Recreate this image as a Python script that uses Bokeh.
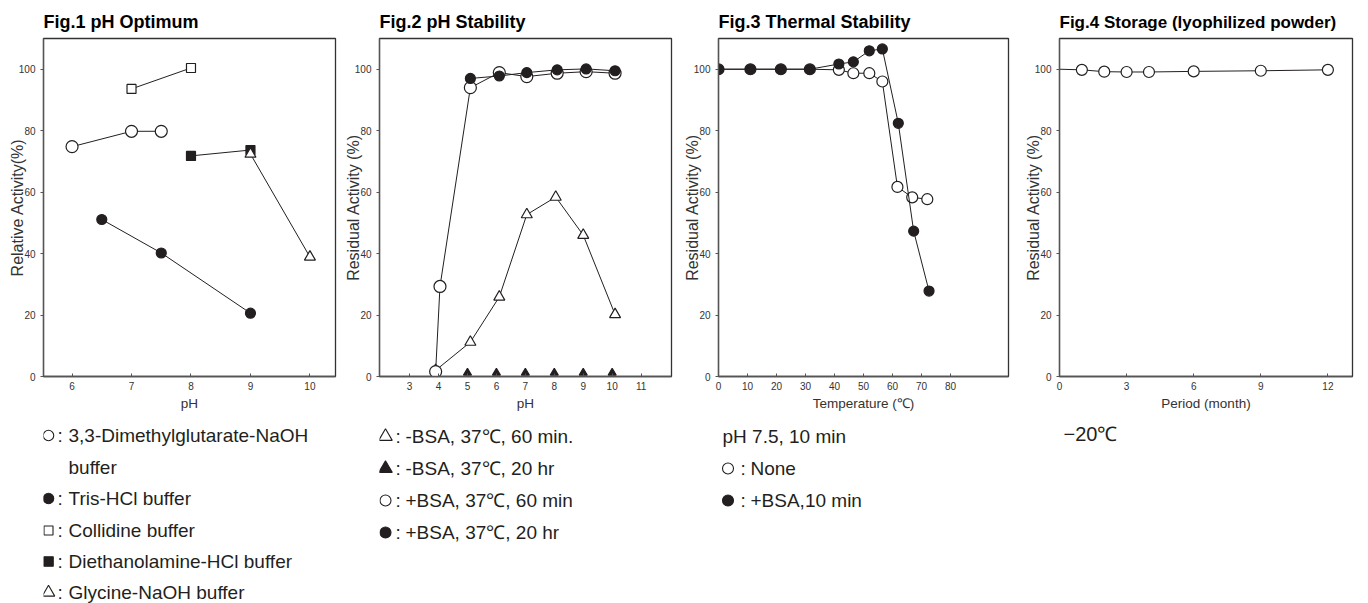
from bokeh.plotting import figure
from bokeh.models import Range1d, FixedTicker
from bokeh.layouts import row, column
from bokeh.embed import file_html
from bokeh.resources import INLINE
from bokeh.core.properties import value

FONT = "Liberation Sans"
INK = "#231f20"

# ---------------- data ----------------
# Fig.1 pH Optimum
f1_dmg_ph = [6.0, 7.0, 7.5]
f1_dmg_act = [74.8, 79.8, 79.8]
f1_tris_ph = [6.5, 7.5, 9.0]
f1_tris_act = [51.1, 40.2, 20.6]
f1_coll_ph = [7.0, 8.0]
f1_coll_act = [93.6, 100.4]
f1_dea_ph = [8.0, 9.0]
f1_dea_act = [71.8, 73.7]
f1_gly_ph = [9.0, 10.0]
f1_gly_act = [72.4, 38.9]
f1_xticks = [6, 7, 8, 9, 10]

# Fig.2 pH Stability
f2_m60_ph = [3.9, 5.1, 6.1, 7.05, 8.05, 9.0, 10.1]
f2_m60_act = [2.0, 11.2, 25.9, 52.7, 58.4, 46.0, 20.2]
f2_m20_ph = [5.0, 6.0, 7.0, 8.0, 9.0, 10.0]
f2_m20_act = [1.2, 1.2, 1.2, 1.2, 1.2, 1.2]
f2_p60_ph = [3.9, 4.05, 5.1, 6.1, 7.05, 8.1, 9.1, 10.1]
f2_p60_act = [1.6, 29.3, 94.0, 98.9, 97.6, 98.7, 99.2, 98.7]
f2_p20_ph = [5.1, 6.1, 7.05, 8.1, 9.1, 10.1]
f2_p20_act = [97.0, 97.8, 98.9, 99.8, 100.1, 99.5]
f2_xticks = [3, 4, 5, 6, 7, 8, 9, 10, 11]

# Fig.3 Thermal Stability
f3_none_t = [0, 11, 21.5, 31.5, 41.5, 46.5, 52, 56.5, 61.7, 66.8, 72.0]
f3_none_act = [100, 100, 100, 100, 99.8, 98.7, 98.7, 96.0, 61.7, 58.3, 57.7]
f3_bsa_t = [0, 11, 21.5, 31.5, 41.5, 46.5, 52, 56.5, 62, 67.3, 72.6]
f3_bsa_act = [100, 100, 100, 100, 101.7, 102.4, 106.0, 106.6, 82.4, 47.3, 27.8]
f3_xticks = [0, 10, 20, 30, 40, 50, 60, 70, 80]

# Fig.4 Storage
f4_month = [0, 1, 2, 3, 4, 6, 9, 12]
f4_act = [100, 99.8, 99.2, 99.1, 99.1, 99.3, 99.5, 99.8]
f4_xticks = [0, 3, 6, 9, 12]

y_ticks = [0, 20, 40, 60, 80, 100]

titles = ["Fig.1 pH Optimum", "Fig.2 pH Stability", "Fig.3 Thermal Stability",
          "Fig.4 Storage (lyophilized powder)"]
x_labels = ["pH", "pH", "Temperature (℃)", "Period (month)"]
y_labels = ["Relative Activity(%)", "Residual Activity (%)", "Residual Activity (%)",
            "Residual Activity (%)"]

f1_legend = ["3,3-Dimethylglutarate-NaOH", "Tris-HCl buffer", "Collidine buffer",
             "Diethanolamine-HCl buffer", "Glycine-NaOH buffer"]
f1_legend_cont = "buffer"
f2_legend = ["-BSA, 37℃, 60 min.", "-BSA, 37℃, 20 hr", "+BSA, 37℃, 60 min", "+BSA, 37℃, 20 hr"]
f3_legend_head = "pH 7.5, 10 min"
f3_legend = ["None", "+BSA,10 min"]
f4_legend = "−20℃"

# ---------------- layout constants (page pixels) ----------------
FIG_W = [340, 339, 341, 348]
BORDER_L = [43, 39, 39, 39]
BORDER_R = [5, 8, 12, 16]
FR_L = [43, 379, 718, 1059]
FR_R = [335, 671, 1008, 1352]
TOP_H = 413          # plot part (frame 38..376)
PAGE_H = 603
X_RANGES = [(5.52, 10.43), (1.96, 12.05), (0, 100), (0, 13.1)]
Y_MAX = 110
TITLE_SIZE = ["18px", "18px", "18px", "17px"]


def panel(i, xticks):
    p = figure(width=FIG_W[i], height=TOP_H,
               x_range=Range1d(*X_RANGES[i]), y_range=Range1d(0, Y_MAX),
               output_backend="svg", toolbar_location=None,
               min_border_left=BORDER_L[i], min_border_right=BORDER_R[i],
               min_border_top=38, min_border_bottom=37)
    p.title.text = titles[i]
    p.title.text_font = FONT
    p.title.text_font_size = TITLE_SIZE[i]
    p.title.text_font_style = "bold"
    p.title.text_color = "#000000"
    p.title.align = "left"
    p.title.standoff = 13
    p.xgrid.visible = False
    p.ygrid.visible = False
    p.outline_line_color = "#333333"
    p.outline_line_width = 1.3
    p.background_fill_color = "white"
    p.border_fill_color = "white"

    xa = p.xaxis[0]
    ya = p.yaxis[0]
    for ax in (xa, ya):
        ax.axis_line_color = "#555555"
        ax.axis_line_width = 1.3
        ax.major_tick_line_color = "#555555"
        ax.minor_tick_in = 0
        ax.minor_tick_out = 0
        ax.major_label_text_font = FONT
        ax.major_label_text_font_size = "10px"
        ax.major_label_text_color = "#333333"
        ax.axis_label_text_font = FONT
        ax.axis_label_text_font_style = "normal"
        ax.axis_label_text_color = "#333333"

    xa.ticker = FixedTicker(ticks=xticks)
    xa.major_tick_in = 3
    xa.major_tick_out = 0
    xa.major_label_standoff = 5
    xa.axis_label = x_labels[i]
    xa.axis_label_standoff = 3
    xa.axis_label_text_font_size = "13.5px"

    ya.ticker = FixedTicker(ticks=y_ticks)
    ya.major_tick_in = 0
    ya.major_tick_out = 3
    ya.major_label_standoff = 5
    ya.axis_label = y_labels[i]
    ya.axis_label_standoff = -10
    ya.axis_label_text_font_size = "16px"
    return p


def series(p, x, y, marker, size, filled, line=True):
    if line:
        p.line(x, y, line_color=INK, line_width=1)
    p.scatter(x, y, marker=marker, size=size,
              fill_color=INK if filled else "white", line_color=INK, line_width=1.2)


def legend_fig(i):
    # frame spans the same page columns as the plot frame above it;
    # coordinates inside are page pixels
    q = figure(width=FIG_W[i], height=PAGE_H - TOP_H,
               x_range=Range1d(FR_L[i], FR_R[i]), y_range=Range1d(PAGE_H, TOP_H),
               x_axis_type=None, y_axis_type=None,
               output_backend="svg", toolbar_location=None,
               min_border_left=BORDER_L[i], min_border_right=BORDER_R[i],
               min_border_top=0, min_border_bottom=0)
    q.outline_line_color = None
    q.background_fill_color = "white"
    q.border_fill_color = "white"
    return q


def ltext(q, x, y, txt, size="19px"):
    q.text(x=[x], y=[y], text=[txt], text_font=value(FONT), text_font_size=size,
           text_color=INK, text_baseline="middle", text_align="left")


def lmark(q, x, y, marker, size, filled):
    q.scatter([x], [y], marker=marker, size=size,
              fill_color=INK if filled else "white", line_color=INK, line_width=1.1)


# ---------------- Fig.1 ----------------
p1 = panel(0, f1_xticks)
series(p1, f1_dmg_ph, f1_dmg_act, "circle", 12, False)
series(p1, f1_tris_ph, f1_tris_act, "circle", 10, True)
series(p1, f1_coll_ph, f1_coll_act, "square", 9, False)
series(p1, f1_dea_ph, f1_dea_act, "square", 9, True)
series(p1, f1_gly_ph, f1_gly_act, "triangle", 11, False)

l1 = legend_fig(0)
l1_marks = [("circle", 10.5, False), ("circle", 10.5, True), ("square", 9, False),
            ("square", 9.5, True), ("triangle", 12.5, False)]
l1_y = [435, 498, 530, 561, 592]
for (m, s, f), yy, txt in zip(l1_marks, l1_y, f1_legend):
    lmark(l1, 48, yy, m, s, f)
    ltext(l1, 57, yy, ":")
    ltext(l1, 68, yy, txt)
ltext(l1, 68, 467, f1_legend_cont)

# ---------------- Fig.2 ----------------
p2 = panel(1, f2_xticks)
series(p2, f2_m60_ph, f2_m60_act, "triangle", 11, False)
series(p2, f2_m20_ph, f2_m20_act, "triangle", 8, True, line=False)
series(p2, f2_p60_ph, f2_p60_act, "circle", 12, False)
series(p2, f2_p20_ph, f2_p20_act, "circle", 10, True)

l2 = legend_fig(1)
l2_marks = [("triangle", 13.5, False), ("triangle", 13.5, True), ("circle", 11, False),
            ("circle", 11, True)]
l2_y = [436, 468, 500, 532]
for (m, s, f), yy, txt in zip(l2_marks, l2_y, f2_legend):
    lmark(l2, 385, yy, m, s, f)
    ltext(l2, 395, yy, ":")
    ltext(l2, 405, yy, txt)

# ---------------- Fig.3 ----------------
p3 = panel(2, f3_xticks)
series(p3, f3_none_t, f3_none_act, "circle", 11, False)
series(p3, f3_bsa_t, f3_bsa_act, "circle", 10, True)

l3 = legend_fig(2)
ltext(l3, 722, 436, f3_legend_head)
l3_marks = [("circle", 11, False), ("circle", 11, True)]
l3_y = [468, 500]
for (m, s, f), yy, txt in zip(l3_marks, l3_y, f3_legend):
    lmark(l3, 727.5, yy, m, s, f)
    ltext(l3, 740, yy, ":")
    ltext(l3, 750, yy, txt)

# ---------------- Fig.4 ----------------
p4 = panel(3, f4_xticks)
p4.line(f4_month, f4_act, line_color=INK, line_width=1)
p4.scatter(f4_month[1:], f4_act[1:], marker="circle", size=11,
           fill_color="white", line_color=INK, line_width=1.2)

l4 = legend_fig(3)
ltext(l4, 1063, 433, f4_legend, size="20px")

layout = row(column(p1, l1), column(p2, l2), column(p3, l3), column(p4, l4))

with open("out.html", "w") as fh:
    fh.write(file_html(layout, INLINE))
